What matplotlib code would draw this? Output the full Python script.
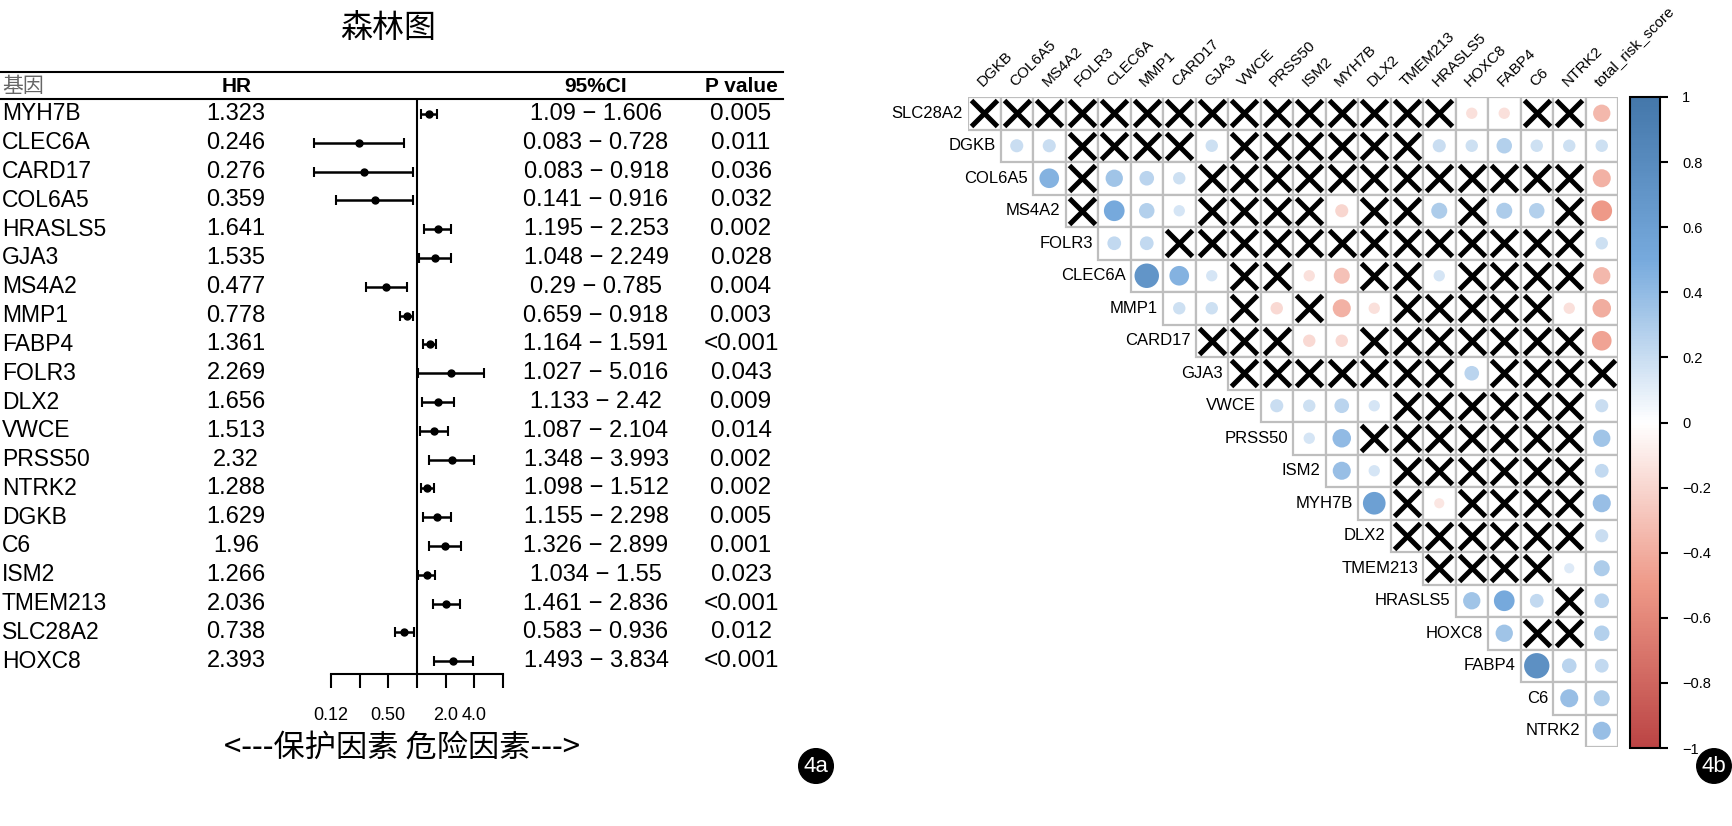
import numpy as np
import matplotlib
matplotlib.use("Agg")
import matplotlib.pyplot as plt
from matplotlib.colors import LinearSegmentedColormap, Normalize
from matplotlib.patches import Rectangle, Circle
from matplotlib.transforms import blended_transform_factory
from matplotlib.ticker import NullLocator
from matplotlib.cm import ScalarMappable

plt.rcParams["font.family"] = ["Liberation Sans", "Noto Sans CJK SC", "DejaVu Sans"]
CJK = ["Noto Sans CJK SC", "DejaVu Sans"]

# ---- forest plot data (4a) ----
genes = ["MYH7B", "CLEC6A", "CARD17", "COL6A5", "HRASLS5", "GJA3", "MS4A2", "MMP1",
         "FABP4", "FOLR3", "DLX2", "VWCE", "PRSS50", "NTRK2", "DGKB", "C6", "ISM2",
         "TMEM213", "SLC28A2", "HOXC8"]
hr = [1.323, 0.246, 0.276, 0.359, 1.641, 1.535, 0.477, 0.778, 1.361, 2.269, 1.656,
      1.513, 2.32, 1.288, 1.629, 1.96, 1.266, 2.036, 0.738, 2.393]
ci_low = [1.09, 0.083, 0.083, 0.141, 1.195, 1.048, 0.29, 0.659, 1.164, 1.027, 1.133,
          1.087, 1.348, 1.098, 1.155, 1.326, 1.034, 1.461, 0.583, 1.493]
ci_high = [1.606, 0.728, 0.918, 0.916, 2.253, 2.249, 0.785, 0.918, 1.591, 5.016, 2.42,
           2.104, 3.993, 1.512, 2.298, 2.899, 1.55, 2.836, 0.936, 3.834]
pvals = ["0.005", "0.011", "0.036", "0.032", "0.002", "0.028", "0.004", "0.003", "<0.001",
         "0.043", "0.009", "0.014", "0.002", "0.002", "0.005", "0.001", "0.023", "<0.001",
         "0.012", "<0.001"]
hr_text = ["1.323", "0.246", "0.276", "0.359", "1.641", "1.535", "0.477", "0.778", "1.361",
           "2.269", "1.656", "1.513", "2.32", "1.288", "1.629", "1.96", "1.266", "2.036",
           "0.738", "2.393"]
ci_text = ["1.09−1.606", "0.083−0.728", "0.083−0.918", "0.141−0.916", "1.195−2.253",
           "1.048−2.249", "0.29−0.785", "0.659−0.918", "1.164−1.591", "1.027−5.016",
           "1.133−2.42", "1.087−2.104", "1.348−3.993", "1.098−1.512", "1.155−2.298",
           "1.326−2.899", "1.034−1.55", "1.461−2.836", "0.583−0.936", "1.493−3.834"]
x_ticks = [0.125, 0.25, 0.5, 1, 2, 4, 8]
x_tick_labels = ["0.12", "", "0.50", "", "2.0", "4.0", ""]

# ---- correlation data (4b), upper triangle without diagonal; nan = not significant ----
X = np.nan
row_genes = ["SLC28A2", "DGKB", "COL6A5", "MS4A2", "FOLR3", "CLEC6A", "MMP1", "CARD17",
             "GJA3", "VWCE", "PRSS50", "ISM2", "MYH7B", "DLX2", "TMEM213", "HRASLS5",
             "HOXC8", "FABP4", "C6", "NTRK2"]
col_genes = row_genes[1:] + ["total_risk_score"]
corr_rows = [
    [X, X, X, X, X, X, X, X, X, X, X, X, X, X, X, -0.15, -0.15, X, X, -0.35],
    [0.2, 0.2, X, X, X, X, 0.18, X, X, X, X, X, X, 0.2, 0.18, 0.28, 0.18, 0.18, 0.18],
    [0.45, X, 0.35, 0.25, 0.18, X, X, X, X, X, X, X, X, X, X, X, X, -0.38],
    [X, 0.5, 0.28, 0.15, X, X, X, X, -0.2, X, X, 0.3, X, 0.3, 0.28, X, -0.5],
    [0.22, 0.22, X, X, X, X, X, X, X, X, X, X, X, X, X, 0.18],
    [0.7, 0.45, 0.15, X, X, -0.15, -0.3, X, X, 0.15, X, X, X, X, -0.35],
    [0.18, 0.18, X, -0.18, X, -0.38, -0.15, X, X, X, X, X, -0.15, -0.4],
    [X, X, X, -0.18, -0.18, X, X, X, X, X, X, X, -0.45],
    [X, X, X, X, X, X, X, 0.25, X, X, X, X],
    [0.2, 0.18, 0.25, 0.15, X, X, X, X, X, X, 0.2],
    [0.15, 0.4, X, X, X, X, X, X, X, 0.35],
    [0.38, 0.15, X, X, X, X, X, X, 0.22],
    [0.6, X, -0.12, X, X, X, X, 0.38],
    [X, X, X, X, X, X, 0.2],
    [X, X, X, X, 0.12, 0.3],
    [0.35, 0.5, 0.22, X, 0.25],
    [0.35, X, X, 0.28],
    [0.75, 0.25, 0.22],
    [0.38, 0.3],
    [0.38],
]
cb_ticks = [1, 0.8, 0.6, 0.4, 0.2, 0, -0.2, -0.4, -0.6, -0.8, -1]

W, H = 1732, 826
fig = plt.figure(figsize=(W / 100, H / 100), dpi=100)


def box(x0, y0, x1, y1):
    return [x0 / W, 1 - y1 / H, (x1 - x0) / W, (y1 - y0) / H]


# ---------------- 4a forest plot ----------------
row0, step = 114, 28.8
top_px, axis_px = 72, 674
unit = 28.7  # px per log2 unit
ax = fig.add_axes(box(417 - 4 * unit, top_px, 417 + 4 * unit, axis_px))
ax.patch.set_alpha(0)
ax.set_xscale("log", base=2)
ax.set_xlim(2 ** -4, 2 ** 4)
y_bot = (axis_px - row0) / step
y_top = (top_px - row0) / step
ax.set_ylim(y_bot, y_top)
for s in ["top", "right", "left"]:
    ax.spines[s].set_visible(False)
ax.spines["bottom"].set_bounds(x_ticks[0], x_ticks[-1])
ax.spines["bottom"].set_linewidth(1.5)
ax.set_xticks(x_ticks)
ax.set_xticklabels(x_tick_labels)
ax.xaxis.set_minor_locator(NullLocator())
ax.tick_params(axis="x", direction="out", length=10, width=1.5, pad=14, labelsize=13)
ax.set_yticks([])

ys = np.arange(len(genes))
ax.hlines(ys, ci_low, ci_high, color="black", lw=1.8, clip_on=False)
ax.plot(ci_low, ys, "|", color="black", ms=7, mew=1.5, clip_on=False)
ax.plot(ci_high, ys, "|", color="black", ms=7, mew=1.5, clip_on=False)
ax.plot(hr, ys, "o", color="black", ms=5, clip_on=False)
head_line = (99 - row0) / step
ax.vlines(1, head_line, y_bot, color="black", lw=1.5)

tr = blended_transform_factory(fig.transFigure, ax.transData)
for yl in [y_top, head_line]:
    ax.plot([0, 783 / W], [yl, yl], color="black", lw=1.5, transform=tr, clip_on=False)

head_y = (86 - row0) / step
ax.text(2 / W, head_y, "基因", transform=tr, ha="left", va="center", fontsize=15,
        family=CJK, color="#666666")
ax.text(237 / W, head_y, "HR", transform=tr, ha="center", va="center", fontsize=15,
        fontweight="bold")
ax.text(596 / W, head_y, "95%CI", transform=tr, ha="center", va="center", fontsize=15,
        fontweight="bold")
ax.text(741 / W, head_y, "P value", transform=tr, ha="center", va="center", fontsize=15,
        fontweight="bold")
for k, g in enumerate(genes):
    ax.text(2 / W, k, g, transform=tr, ha="left", va="center", fontsize=16.5)
    ax.text(236 / W, k, hr_text[k], transform=tr, ha="center", va="center", fontsize=17)
    ax.text(596 / W, k, ci_text[k].replace("−", " − "), transform=tr, ha="center",
            va="center", fontsize=17)
    ax.text(741 / W, k, pvals[k], transform=tr, ha="center", va="center", fontsize=17.5)

fig.text(388 / W, 1 - 28 / H, "森林图", ha="center", va="center", fontsize=23, family=CJK)
fig.text(402 / W, 1 - 748 / H, "<---保护因素 危险因素--->", ha="center", va="center",
         fontsize=22.5, family=CJK)

# ---------------- 4b correlation plot ----------------
cmap = LinearSegmentedColormap.from_list(
    "corr", ["#BB4444", "#EE9988", "#FFFFFF", "#77AADD", "#4477AA"])
norm = Normalize(-1, 1)
n = len(row_genes)
axc = fig.add_axes(box(968, 97, 1618, 747))
axc.set_xlim(0, n)
axc.set_ylim(n, 0)
axc.axis("off")

xs, yx = [], []
for i, row in enumerate(corr_rows):
    for k, r in enumerate(row):
        j = i + k
        axc.add_patch(Rectangle((j, i), 1, 1, fc="white", ec="#BEBEBE", lw=1.6))
        if np.isnan(r):
            xs.append(j + 0.5)
            yx.append(i + 0.5)
        else:
            axc.add_patch(Circle((j + 0.5, i + 0.5), 0.45 * np.sqrt(abs(r)),
                                 color=cmap(norm(r)), lw=0))
axc.plot(xs, yx, "x", color="black", ms=18.5, mew=3.6)

for i, g in enumerate(row_genes):
    axc.text(i - 0.15, i + 0.5, g, ha="right", va="center", fontsize=12)
for j, g in enumerate(col_genes):
    axc.text(j + 0.45, -0.3, g, ha="left", va="baseline", rotation=45,
             rotation_mode="anchor", fontsize=11)

axcb = fig.add_axes(box(1630, 97, 1660, 748))
cb = fig.colorbar(ScalarMappable(norm=norm, cmap=cmap), cax=axcb, ticks=cb_ticks)
cb.ax.set_yticklabels([("%g" % t).replace("-", "−") for t in cb_ticks])
cb.outline.set_linewidth(1.5)
cb.ax.tick_params(length=6, width=1.5, labelsize=10.5, pad=10)

# panel badges
for xb, lab in [(816, "4a"), (1714, "4b")]:
    fig.text(xb / W, 1 - 766 / H, lab, color="white", fontsize=16, ha="center",
             va="center", bbox=dict(boxstyle="circle,pad=0.22", fc="black", ec="black"))

fig.savefig("out.png", dpi=100)
